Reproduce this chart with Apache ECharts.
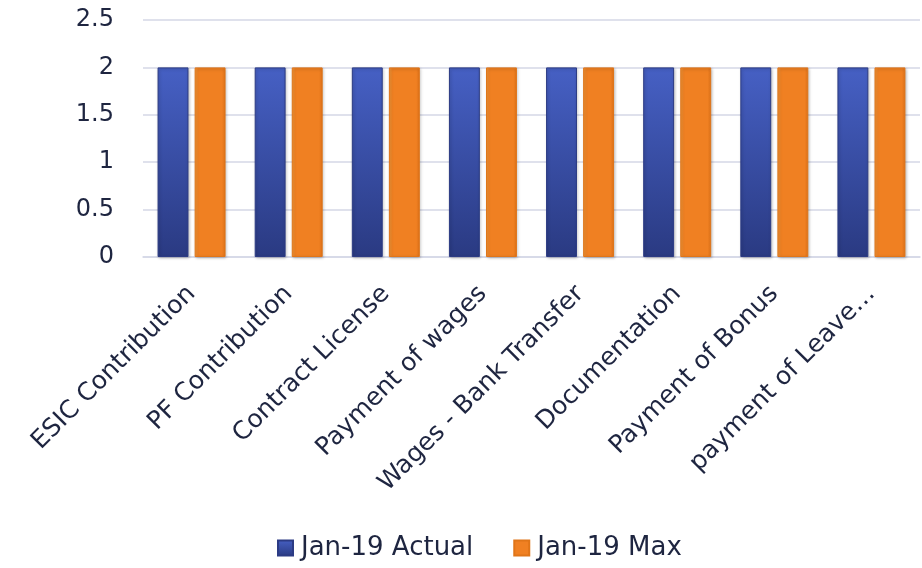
<!DOCTYPE html>
<html><head><meta charset="utf-8">
<script src="https://cdn.jsdelivr.net/npm/echarts@6/dist/echarts.min.js"></script>
<style>html,body{margin:0;padding:0;background:#fff}#c{width:922px;height:568px}</style>
</head><body><div id="c"></div>
<script>
const categories = ["ESIC Contribution","PF Contribution","Contract License","Payment of wages","Wages - Bank Transfer","Documentation","Payment of Bonus","payment of Leave…"];
const actual = [2,2,2,2,2,2,2,2];
const maxVals = [2,2,2,2,2,2,2,2];
const seriesNames = ["Jan-19 Actual","Jan-19 Max"];
const yTicks = {min:0, max:2.5, interval:0.5};

const txt = '#1e2540';
const font = '"DejaVu Sans", sans-serif';
const blue = new echarts.graphic.LinearGradient(0,0,0,1,[{offset:0,color:'#4660c4'},{offset:1,color:'#2a3a82'}]);
const orange = new echarts.graphic.LinearGradient(0,0,1,0,[{offset:0,color:'#f79a3a'},{offset:0.12,color:'#f08022'},{offset:0.88,color:'#f08022'},{offset:1,color:'#e2741a'}]);
const chart = echarts.init(document.getElementById('c'));
chart.setOption({
  animation:false,
  grid:{left:143,right:2,top:20,bottom:311},
  xAxis:{type:'category',data:categories,
    axisLine:{show:true,lineStyle:{color:'#d5d7e6',width:1.5}},axisTick:{show:false},
    axisLabel:{rotate:45,color:txt,fontFamily:font,fontSize:25,margin:33,interval:0}},
  yAxis:{type:'value',min:yTicks.min,max:yTicks.max,interval:yTicks.interval,
    axisLine:{show:false},axisTick:{show:false},
    splitLine:{lineStyle:{color:'#d5d7e6',width:1.5}},
    axisLabel:{color:txt,fontFamily:font,fontSize:24,margin:29}},
  legend:{bottom:2,left:272,itemWidth:15,itemHeight:15,itemGap:40,
    textStyle:{color:txt,fontFamily:font,fontSize:26,padding:[0,0,0,3]},
    data:[{name:seriesNames[0],icon:'rect'},{name:seriesNames[1],icon:'rect'}]},
  series:[
    {name:seriesNames[0],type:'bar',data:actual,barGap:'20%',barCategoryGap:'30%',
      itemStyle:{color:blue,borderColor:'#2c3b84',borderWidth:1,shadowColor:'rgba(0,0,0,0.25)',shadowBlur:3,shadowOffsetX:1,shadowOffsetY:1}},
    {name:seriesNames[1],type:'bar',data:maxVals,
      itemStyle:{color:orange,borderColor:'#e07518',borderWidth:1,shadowColor:'rgba(0,0,0,0.25)',shadowBlur:3,shadowOffsetX:1,shadowOffsetY:1}}
  ]
});
</script></body></html>
